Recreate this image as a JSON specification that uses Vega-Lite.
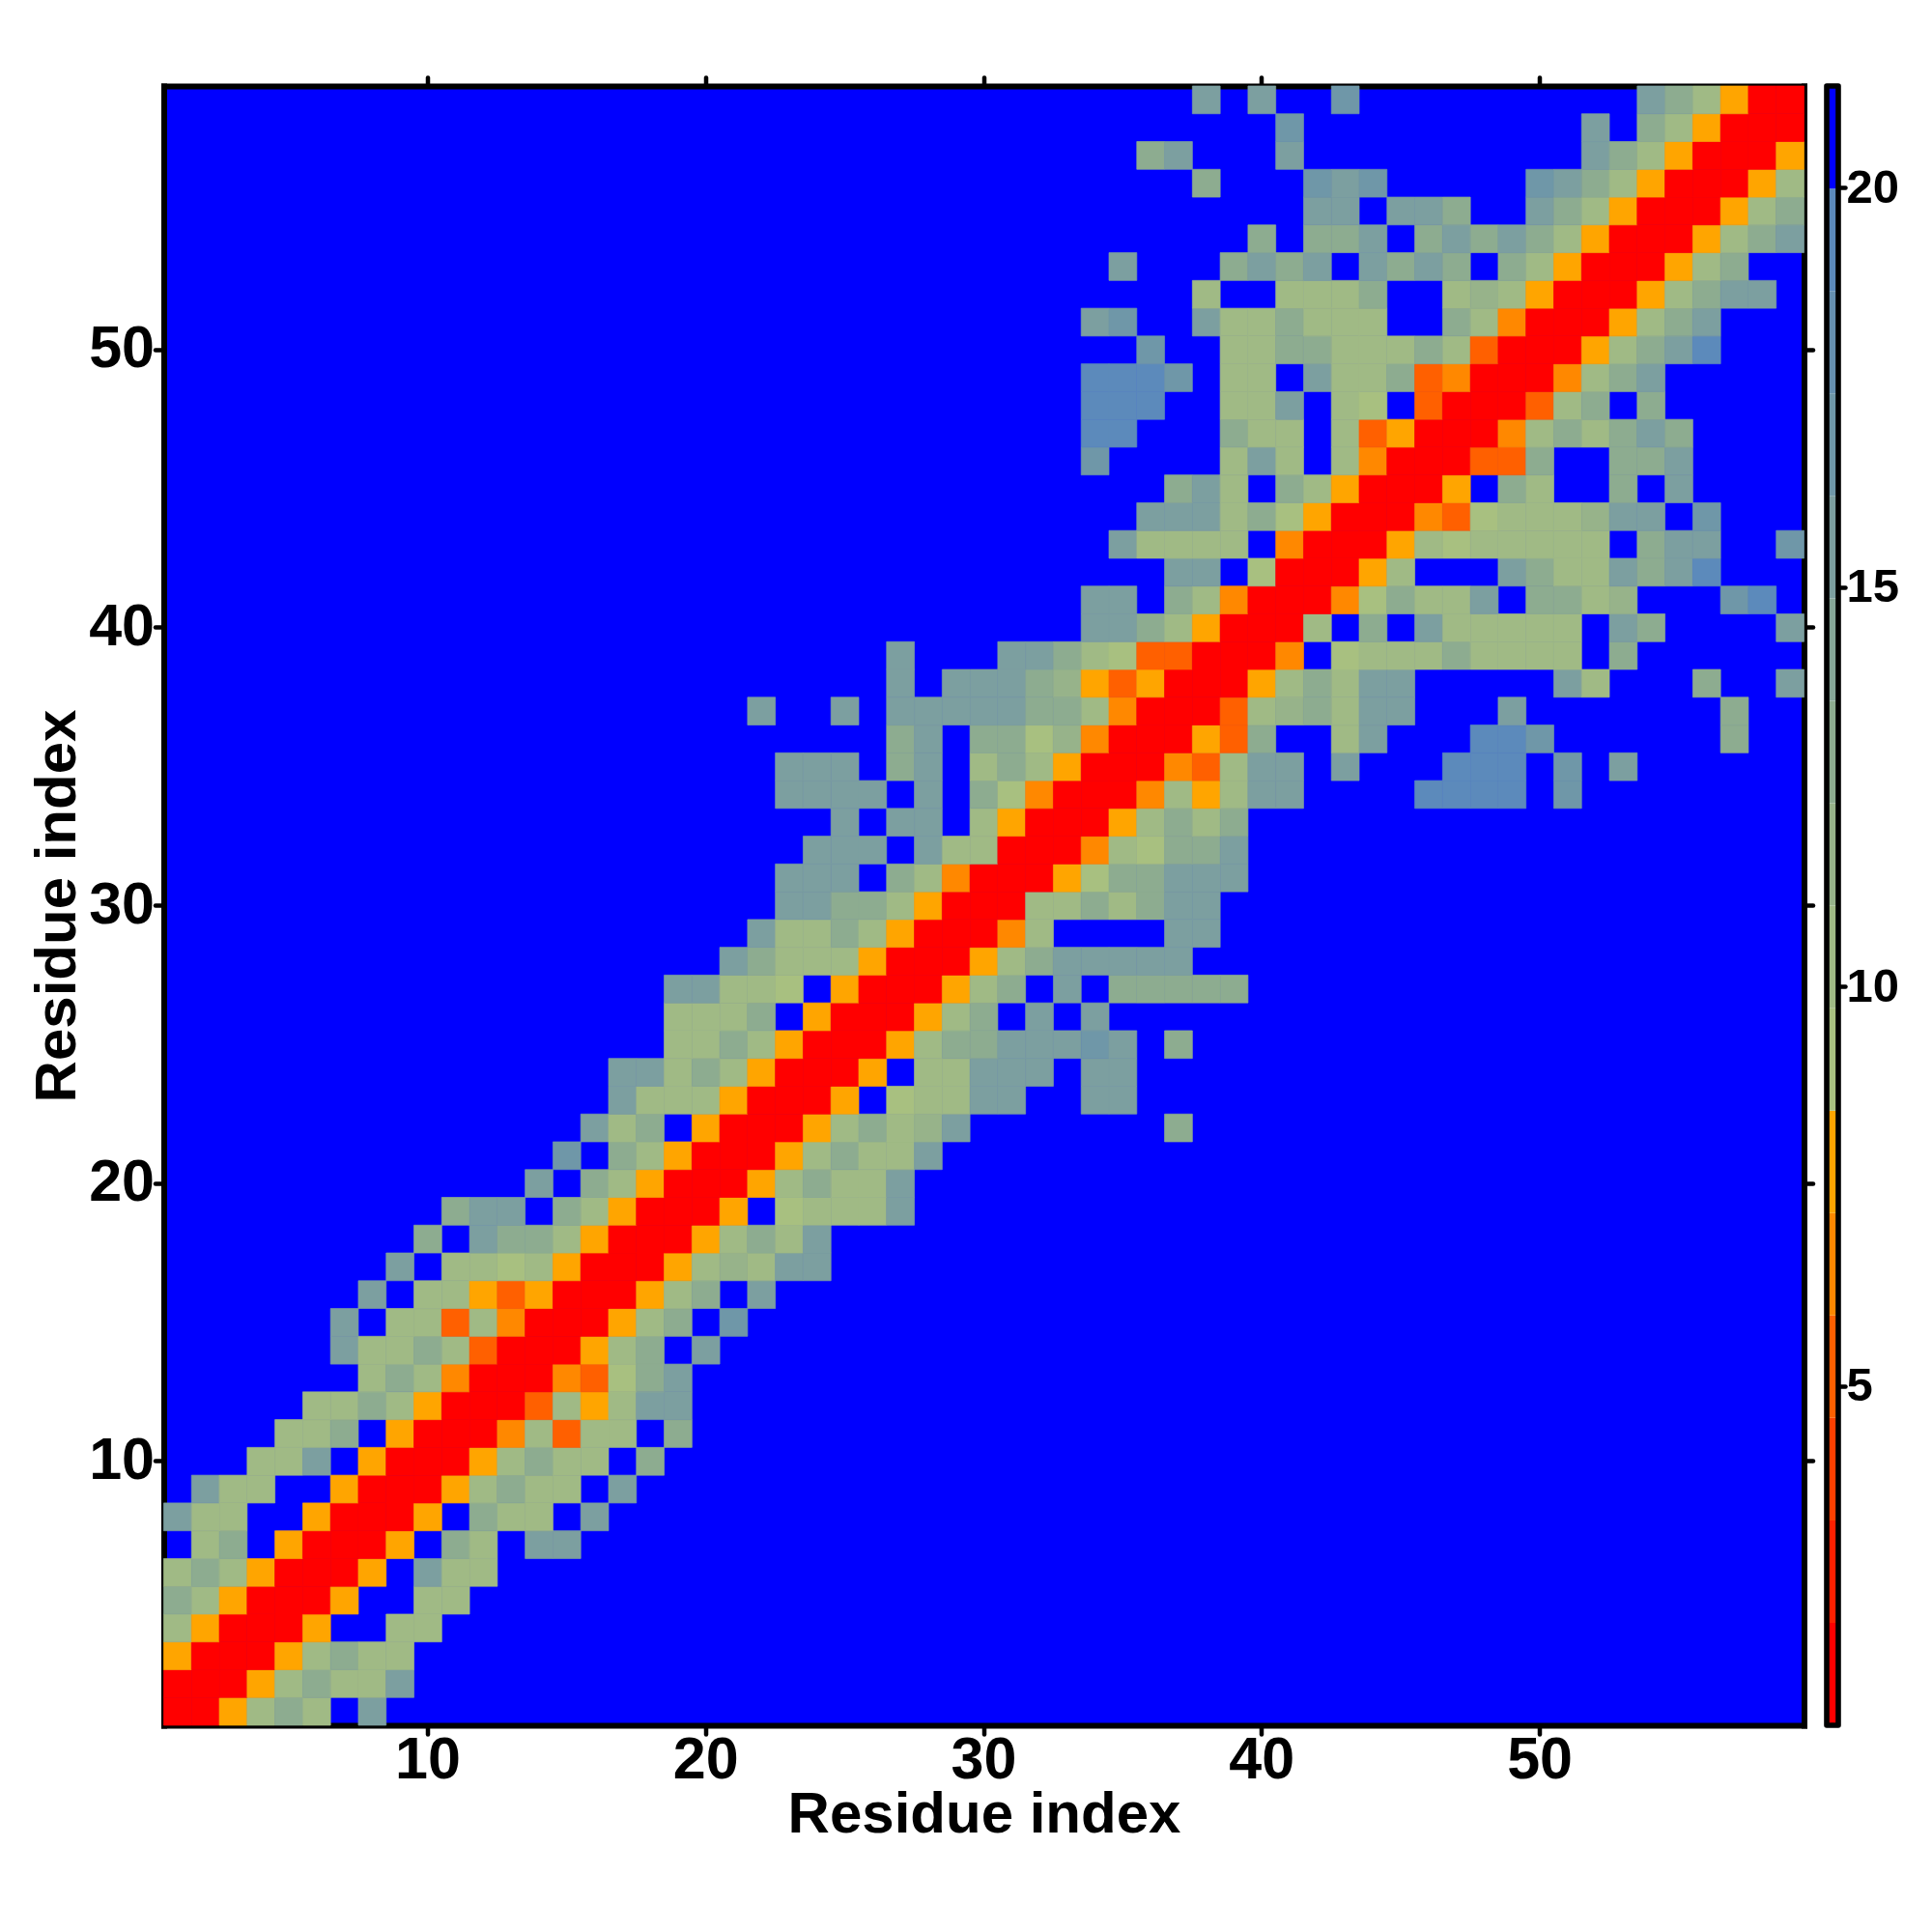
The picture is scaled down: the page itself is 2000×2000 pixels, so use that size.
{"$schema":"https://vega.github.io/schema/vega-lite/v6.json","background":"white","padding":{"left":29.5,"top":77,"right":0,"bottom":0},"spacing":8.5,"config":{"view":{"stroke":null},"axis":{"grid":false,"domainColor":"black","domainWidth":6,"domainCap":"square","tickColor":"black","tickWidth":4.5,"tickSize":9,"tickCap":"round","labelFont":"Liberation Sans","labelFontWeight":"bold","labelColor":"black","labelFontSize":61,"titleFont":"Liberation Sans","titleFontWeight":"bold","titleColor":"black","titleFontSize":60,"labelAngle":0,"labelOverlap":false,"zindex":1}},"datasets":{"cells":[
{"x":1,"y":1,"v":1.5},{"x":2,"y":1,"v":1.5},{"x":3,"y":1,"v":8},{"x":4,"y":1,"v":10.4},{"x":5,"y":1,"v":13},{"x":6,"y":1,"v":10.4},{"x":8,"y":1,"v":15.5},
{"x":1,"y":2,"v":1.5},{"x":2,"y":2,"v":1.5},{"x":3,"y":2,"v":1.5},{"x":4,"y":2,"v":8},{"x":5,"y":2,"v":10.4},{"x":6,"y":2,"v":13},{"x":7,"y":2,"v":10.4},{"x":8,"y":2,"v":10.4},{"x":9,"y":2,"v":15.5},
{"x":1,"y":3,"v":8},{"x":2,"y":3,"v":1.5},{"x":3,"y":3,"v":1.5},{"x":4,"y":3,"v":1.5},{"x":5,"y":3,"v":8},{"x":6,"y":3,"v":10.4},{"x":7,"y":3,"v":13},{"x":8,"y":3,"v":10.4},{"x":9,"y":3,"v":10.4},
{"x":1,"y":4,"v":10.4},{"x":2,"y":4,"v":8},{"x":3,"y":4,"v":1.5},{"x":4,"y":4,"v":1.5},{"x":5,"y":4,"v":1.5},{"x":6,"y":4,"v":8},{"x":9,"y":4,"v":10.4},{"x":10,"y":4,"v":10.4},
{"x":1,"y":5,"v":13},{"x":2,"y":5,"v":10.4},{"x":3,"y":5,"v":8},{"x":4,"y":5,"v":1.5},{"x":5,"y":5,"v":1.5},{"x":6,"y":5,"v":1.5},{"x":7,"y":5,"v":8},{"x":10,"y":5,"v":10.4},{"x":11,"y":5,"v":10.4},
{"x":1,"y":6,"v":10.4},{"x":2,"y":6,"v":13},{"x":3,"y":6,"v":10.4},{"x":4,"y":6,"v":8},{"x":5,"y":6,"v":1.5},{"x":6,"y":6,"v":1.5},{"x":7,"y":6,"v":1.5},{"x":8,"y":6,"v":8},{"x":10,"y":6,"v":15.5},{"x":11,"y":6,"v":10.4},{"x":12,"y":6,"v":10.4},
{"x":2,"y":7,"v":10.4},{"x":3,"y":7,"v":13},{"x":5,"y":7,"v":8},{"x":6,"y":7,"v":1.5},{"x":7,"y":7,"v":1.5},{"x":8,"y":7,"v":1.5},{"x":9,"y":7,"v":8},{"x":11,"y":7,"v":13},{"x":12,"y":7,"v":10.4},{"x":14,"y":7,"v":15.5},{"x":15,"y":7,"v":15.5},
{"x":1,"y":8,"v":15.5},{"x":2,"y":8,"v":10.4},{"x":3,"y":8,"v":10.4},{"x":6,"y":8,"v":8},{"x":7,"y":8,"v":1.5},{"x":8,"y":8,"v":1.5},{"x":9,"y":8,"v":1.5},{"x":10,"y":8,"v":8},{"x":12,"y":8,"v":13},{"x":13,"y":8,"v":10.4},{"x":14,"y":8,"v":10.4},{"x":16,"y":8,"v":15.5},
{"x":2,"y":9,"v":15.5},{"x":3,"y":9,"v":10.4},{"x":4,"y":9,"v":10.4},{"x":7,"y":9,"v":8},{"x":8,"y":9,"v":1.5},{"x":9,"y":9,"v":1.5},{"x":10,"y":9,"v":1.5},{"x":11,"y":9,"v":8},{"x":12,"y":9,"v":10.4},{"x":13,"y":9,"v":13},{"x":14,"y":9,"v":10.4},{"x":15,"y":9,"v":10.4},{"x":17,"y":9,"v":15.5},
{"x":4,"y":10,"v":10.4},{"x":5,"y":10,"v":10.4},{"x":6,"y":10,"v":15.5},{"x":8,"y":10,"v":8},{"x":9,"y":10,"v":1.5},{"x":10,"y":10,"v":1.5},{"x":11,"y":10,"v":1.5},{"x":12,"y":10,"v":8},{"x":13,"y":10,"v":10.4},{"x":14,"y":10,"v":13},{"x":15,"y":10,"v":10.4},{"x":16,"y":10,"v":10.4},{"x":18,"y":10,"v":13},
{"x":5,"y":11,"v":10.4},{"x":6,"y":11,"v":10.4},{"x":7,"y":11,"v":13},{"x":9,"y":11,"v":8},{"x":10,"y":11,"v":1.5},{"x":11,"y":11,"v":1.5},{"x":12,"y":11,"v":1.5},{"x":13,"y":11,"v":6.5},{"x":14,"y":11,"v":10.4},{"x":15,"y":11,"v":5.3},{"x":16,"y":11,"v":10.4},{"x":17,"y":11,"v":10.4},{"x":19,"y":11,"v":13},
{"x":6,"y":12,"v":10.4},{"x":7,"y":12,"v":10.4},{"x":8,"y":12,"v":13},{"x":9,"y":12,"v":10.4},{"x":10,"y":12,"v":8},{"x":11,"y":12,"v":1.5},{"x":12,"y":12,"v":1.5},{"x":13,"y":12,"v":1.5},{"x":14,"y":12,"v":5.3},{"x":15,"y":12,"v":10.4},{"x":16,"y":12,"v":8},{"x":17,"y":12,"v":10.4},{"x":18,"y":12,"v":15.5},{"x":19,"y":12,"v":15.5},
{"x":8,"y":13,"v":10.4},{"x":9,"y":13,"v":13},{"x":10,"y":13,"v":10.4},{"x":11,"y":13,"v":6.5},{"x":12,"y":13,"v":1.5},{"x":13,"y":13,"v":1.5},{"x":14,"y":13,"v":1.5},{"x":15,"y":13,"v":6.5},{"x":16,"y":13,"v":5.3},{"x":17,"y":13,"v":9.2},{"x":18,"y":13,"v":13},{"x":19,"y":13,"v":15.5},
{"x":7,"y":14,"v":15.5},{"x":8,"y":14,"v":10.4},{"x":9,"y":14,"v":10.4},{"x":10,"y":14,"v":13},{"x":11,"y":14,"v":10.4},{"x":12,"y":14,"v":5.3},{"x":13,"y":14,"v":1.5},{"x":14,"y":14,"v":1.5},{"x":15,"y":14,"v":1.5},{"x":16,"y":14,"v":8},{"x":17,"y":14,"v":10.4},{"x":18,"y":14,"v":13},{"x":20,"y":14,"v":15.5},
{"x":7,"y":15,"v":15.5},{"x":9,"y":15,"v":10.4},{"x":10,"y":15,"v":10.4},{"x":11,"y":15,"v":5.3},{"x":12,"y":15,"v":10.4},{"x":13,"y":15,"v":6.5},{"x":14,"y":15,"v":1.5},{"x":15,"y":15,"v":1.5},{"x":16,"y":15,"v":1.5},{"x":17,"y":15,"v":8},{"x":18,"y":15,"v":10.4},{"x":19,"y":15,"v":13},{"x":21,"y":15,"v":17},
{"x":8,"y":16,"v":15.5},{"x":10,"y":16,"v":10.4},{"x":11,"y":16,"v":10.4},{"x":12,"y":16,"v":8},{"x":13,"y":16,"v":5.3},{"x":14,"y":16,"v":8},{"x":15,"y":16,"v":1.5},{"x":16,"y":16,"v":1.5},{"x":17,"y":16,"v":1.5},{"x":18,"y":16,"v":8},{"x":19,"y":16,"v":10.4},{"x":20,"y":16,"v":13},{"x":22,"y":16,"v":15.5},
{"x":9,"y":17,"v":15.5},{"x":11,"y":17,"v":10.4},{"x":12,"y":17,"v":10.4},{"x":13,"y":17,"v":9.2},{"x":14,"y":17,"v":10.4},{"x":15,"y":17,"v":8},{"x":16,"y":17,"v":1.5},{"x":17,"y":17,"v":1.5},{"x":18,"y":17,"v":1.5},{"x":19,"y":17,"v":8},{"x":20,"y":17,"v":10.4},{"x":21,"y":17,"v":11.7},{"x":22,"y":17,"v":10.4},{"x":23,"y":17,"v":15.5},{"x":24,"y":17,"v":15.5},
{"x":10,"y":18,"v":13},{"x":12,"y":18,"v":15.5},{"x":13,"y":18,"v":13},{"x":14,"y":18,"v":13},{"x":15,"y":18,"v":10.4},{"x":16,"y":18,"v":8},{"x":17,"y":18,"v":1.5},{"x":18,"y":18,"v":1.5},{"x":19,"y":18,"v":1.5},{"x":20,"y":18,"v":8},{"x":21,"y":18,"v":10.4},{"x":22,"y":18,"v":13},{"x":23,"y":18,"v":10.4},{"x":24,"y":18,"v":15.5},
{"x":11,"y":19,"v":13},{"x":12,"y":19,"v":15.5},{"x":13,"y":19,"v":15.5},{"x":15,"y":19,"v":13},{"x":16,"y":19,"v":10.4},{"x":17,"y":19,"v":8},{"x":18,"y":19,"v":1.5},{"x":19,"y":19,"v":1.5},{"x":20,"y":19,"v":1.5},{"x":21,"y":19,"v":8},{"x":23,"y":19,"v":9.2},{"x":24,"y":19,"v":10.4},{"x":25,"y":19,"v":10.4},{"x":26,"y":19,"v":10.4},{"x":27,"y":19,"v":15.5},
{"x":14,"y":20,"v":15.5},{"x":16,"y":20,"v":13},{"x":17,"y":20,"v":10.4},{"x":18,"y":20,"v":8},{"x":19,"y":20,"v":1.5},{"x":20,"y":20,"v":1.5},{"x":21,"y":20,"v":1.5},{"x":22,"y":20,"v":8},{"x":23,"y":20,"v":10.4},{"x":24,"y":20,"v":13},{"x":25,"y":20,"v":10.4},{"x":26,"y":20,"v":10.4},{"x":27,"y":20,"v":15.5},
{"x":15,"y":21,"v":17},{"x":17,"y":21,"v":13},{"x":18,"y":21,"v":10.4},{"x":19,"y":21,"v":8},{"x":20,"y":21,"v":1.5},{"x":21,"y":21,"v":1.5},{"x":22,"y":21,"v":1.5},{"x":23,"y":21,"v":8},{"x":24,"y":21,"v":10.4},{"x":25,"y":21,"v":13},{"x":26,"y":21,"v":10.4},{"x":27,"y":21,"v":10.4},{"x":28,"y":21,"v":15.5},
{"x":16,"y":22,"v":15.5},{"x":17,"y":22,"v":10.4},{"x":18,"y":22,"v":13},{"x":20,"y":22,"v":8},{"x":21,"y":22,"v":1.5},{"x":22,"y":22,"v":1.5},{"x":23,"y":22,"v":1.5},{"x":24,"y":22,"v":8},{"x":25,"y":22,"v":10.4},{"x":26,"y":22,"v":13},{"x":27,"y":22,"v":10.4},{"x":28,"y":22,"v":11.7},{"x":29,"y":22,"v":15.5},{"x":37,"y":22,"v":13},
{"x":17,"y":23,"v":15.5},{"x":18,"y":23,"v":10.4},{"x":19,"y":23,"v":10.4},{"x":20,"y":23,"v":10.4},{"x":21,"y":23,"v":8},{"x":22,"y":23,"v":1.5},{"x":23,"y":23,"v":1.5},{"x":24,"y":23,"v":1.5},{"x":25,"y":23,"v":8},{"x":27,"y":23,"v":9.2},{"x":28,"y":23,"v":10.4},{"x":29,"y":23,"v":10.4},{"x":30,"y":23,"v":15.5},{"x":31,"y":23,"v":15.5},{"x":34,"y":23,"v":15.5},{"x":35,"y":23,"v":15.5},
{"x":17,"y":24,"v":15.5},{"x":18,"y":24,"v":15.5},{"x":19,"y":24,"v":10.4},{"x":20,"y":24,"v":13},{"x":21,"y":24,"v":10.4},{"x":22,"y":24,"v":8},{"x":23,"y":24,"v":1.5},{"x":24,"y":24,"v":1.5},{"x":25,"y":24,"v":1.5},{"x":26,"y":24,"v":8},{"x":28,"y":24,"v":10.4},{"x":29,"y":24,"v":10.4},{"x":30,"y":24,"v":15.5},{"x":31,"y":24,"v":15.5},{"x":32,"y":24,"v":15.5},{"x":34,"y":24,"v":15.5},{"x":35,"y":24,"v":15.5},
{"x":19,"y":25,"v":10.4},{"x":20,"y":25,"v":10.4},{"x":21,"y":25,"v":13},{"x":22,"y":25,"v":10.4},{"x":23,"y":25,"v":8},{"x":24,"y":25,"v":1.5},{"x":25,"y":25,"v":1.5},{"x":26,"y":25,"v":1.5},{"x":27,"y":25,"v":8},{"x":28,"y":25,"v":10.4},{"x":29,"y":25,"v":13},{"x":30,"y":25,"v":13},{"x":31,"y":25,"v":15.5},{"x":32,"y":25,"v":15.5},{"x":33,"y":25,"v":15.5},{"x":34,"y":25,"v":17},{"x":35,"y":25,"v":15.5},{"x":37,"y":25,"v":13},
{"x":19,"y":26,"v":10.4},{"x":20,"y":26,"v":10.4},{"x":21,"y":26,"v":10.4},{"x":22,"y":26,"v":13},{"x":24,"y":26,"v":8},{"x":25,"y":26,"v":1.5},{"x":26,"y":26,"v":1.5},{"x":27,"y":26,"v":1.5},{"x":28,"y":26,"v":8},{"x":29,"y":26,"v":10.4},{"x":30,"y":26,"v":13},{"x":32,"y":26,"v":15.5},{"x":34,"y":26,"v":15.5},
{"x":19,"y":27,"v":15.5},{"x":20,"y":27,"v":15.5},{"x":21,"y":27,"v":10.4},{"x":22,"y":27,"v":10.4},{"x":23,"y":27,"v":9.2},{"x":25,"y":27,"v":8},{"x":26,"y":27,"v":1.5},{"x":27,"y":27,"v":1.5},{"x":28,"y":27,"v":1.5},{"x":29,"y":27,"v":8},{"x":30,"y":27,"v":10.4},{"x":31,"y":27,"v":13},{"x":33,"y":27,"v":15.5},{"x":35,"y":27,"v":13},{"x":36,"y":27,"v":13},{"x":37,"y":27,"v":13},{"x":38,"y":27,"v":13},{"x":39,"y":27,"v":13},
{"x":21,"y":28,"v":15.5},{"x":22,"y":28,"v":13},{"x":23,"y":28,"v":10.4},{"x":24,"y":28,"v":10.4},{"x":25,"y":28,"v":10.4},{"x":26,"y":28,"v":8},{"x":27,"y":28,"v":1.5},{"x":28,"y":28,"v":1.5},{"x":29,"y":28,"v":1.5},{"x":30,"y":28,"v":8},{"x":31,"y":28,"v":10.4},{"x":32,"y":28,"v":13},{"x":33,"y":28,"v":15.5},{"x":34,"y":28,"v":15.5},{"x":35,"y":28,"v":15.5},{"x":36,"y":28,"v":15.5},{"x":37,"y":28,"v":15.5},
{"x":22,"y":29,"v":15.5},{"x":23,"y":29,"v":10.4},{"x":24,"y":29,"v":10.4},{"x":25,"y":29,"v":13},{"x":26,"y":29,"v":10.4},{"x":27,"y":29,"v":8},{"x":28,"y":29,"v":1.5},{"x":29,"y":29,"v":1.5},{"x":30,"y":29,"v":1.5},{"x":31,"y":29,"v":6.5},{"x":32,"y":29,"v":10.4},{"x":37,"y":29,"v":15.5},{"x":38,"y":29,"v":15.5},
{"x":23,"y":30,"v":15.5},{"x":24,"y":30,"v":15.5},{"x":25,"y":30,"v":13},{"x":26,"y":30,"v":13},{"x":27,"y":30,"v":10.4},{"x":28,"y":30,"v":8},{"x":29,"y":30,"v":1.5},{"x":30,"y":30,"v":1.5},{"x":31,"y":30,"v":1.5},{"x":32,"y":30,"v":10.4},{"x":33,"y":30,"v":10.4},{"x":34,"y":30,"v":13},{"x":35,"y":30,"v":10.4},{"x":36,"y":30,"v":13},{"x":37,"y":30,"v":15.5},{"x":38,"y":30,"v":15.5},
{"x":23,"y":31,"v":15.5},{"x":24,"y":31,"v":15.5},{"x":25,"y":31,"v":15.5},{"x":27,"y":31,"v":13},{"x":28,"y":31,"v":10.4},{"x":29,"y":31,"v":6.5},{"x":30,"y":31,"v":1.5},{"x":31,"y":31,"v":1.5},{"x":32,"y":31,"v":1.5},{"x":33,"y":31,"v":8},{"x":34,"y":31,"v":9.2},{"x":35,"y":31,"v":13},{"x":36,"y":31,"v":13},{"x":37,"y":31,"v":15.5},{"x":38,"y":31,"v":15.5},{"x":39,"y":31,"v":15.5},
{"x":24,"y":32,"v":15.5},{"x":25,"y":32,"v":15.5},{"x":26,"y":32,"v":15.5},{"x":28,"y":32,"v":15.5},{"x":29,"y":32,"v":10.4},{"x":30,"y":32,"v":10.4},{"x":31,"y":32,"v":1.5},{"x":32,"y":32,"v":1.5},{"x":33,"y":32,"v":1.5},{"x":34,"y":32,"v":6.5},{"x":35,"y":32,"v":10.4},{"x":36,"y":32,"v":9.2},{"x":37,"y":32,"v":13},{"x":38,"y":32,"v":13},{"x":39,"y":32,"v":15.5},
{"x":25,"y":33,"v":15.5},{"x":27,"y":33,"v":15.5},{"x":28,"y":33,"v":15.5},{"x":30,"y":33,"v":10.4},{"x":31,"y":33,"v":8},{"x":32,"y":33,"v":1.5},{"x":33,"y":33,"v":1.5},{"x":34,"y":33,"v":1.5},{"x":35,"y":33,"v":8},{"x":36,"y":33,"v":10.4},{"x":37,"y":33,"v":13},{"x":38,"y":33,"v":10.4},{"x":39,"y":33,"v":13},
{"x":23,"y":34,"v":15.5},{"x":24,"y":34,"v":15.5},{"x":25,"y":34,"v":15.5},{"x":26,"y":34,"v":15.5},{"x":28,"y":34,"v":15.5},{"x":30,"y":34,"v":13},{"x":31,"y":34,"v":9.2},{"x":32,"y":34,"v":6.5},{"x":33,"y":34,"v":1.5},{"x":34,"y":34,"v":1.5},{"x":35,"y":34,"v":1.5},{"x":36,"y":34,"v":6.5},{"x":37,"y":34,"v":10.4},{"x":38,"y":34,"v":8},{"x":39,"y":34,"v":10.4},{"x":40,"y":34,"v":15.5},{"x":41,"y":34,"v":15.5},{"x":46,"y":34,"v":19.3},{"x":47,"y":34,"v":19.3},{"x":48,"y":34,"v":19.3},{"x":49,"y":34,"v":19.3},{"x":51,"y":34,"v":17},
{"x":23,"y":35,"v":15.5},{"x":24,"y":35,"v":15.5},{"x":25,"y":35,"v":15.5},{"x":27,"y":35,"v":13},{"x":28,"y":35,"v":15.5},{"x":30,"y":35,"v":10.4},{"x":31,"y":35,"v":13},{"x":32,"y":35,"v":10.4},{"x":33,"y":35,"v":8},{"x":34,"y":35,"v":1.5},{"x":35,"y":35,"v":1.5},{"x":36,"y":35,"v":1.5},{"x":37,"y":35,"v":6.5},{"x":38,"y":35,"v":5.3},{"x":39,"y":35,"v":10.4},{"x":40,"y":35,"v":15.5},{"x":41,"y":35,"v":15.5},{"x":43,"y":35,"v":15.5},{"x":47,"y":35,"v":19.3},{"x":48,"y":35,"v":19.3},{"x":49,"y":35,"v":19.3},{"x":51,"y":35,"v":17},{"x":53,"y":35,"v":15.5},
{"x":27,"y":36,"v":13},{"x":28,"y":36,"v":15.5},{"x":30,"y":36,"v":13},{"x":31,"y":36,"v":13},{"x":32,"y":36,"v":9.2},{"x":33,"y":36,"v":11.7},{"x":34,"y":36,"v":6.5},{"x":35,"y":36,"v":1.5},{"x":36,"y":36,"v":1.5},{"x":37,"y":36,"v":1.5},{"x":38,"y":36,"v":8},{"x":39,"y":36,"v":5.3},{"x":40,"y":36,"v":13},{"x":43,"y":36,"v":10.4},{"x":44,"y":36,"v":15.5},{"x":48,"y":36,"v":19.3},{"x":49,"y":36,"v":19.3},{"x":50,"y":36,"v":17},{"x":57,"y":36,"v":13},
{"x":22,"y":37,"v":15.5},{"x":25,"y":37,"v":15.5},{"x":27,"y":37,"v":15.5},{"x":28,"y":37,"v":15.5},{"x":29,"y":37,"v":15.5},{"x":30,"y":37,"v":15.5},{"x":31,"y":37,"v":15.5},{"x":32,"y":37,"v":13},{"x":33,"y":37,"v":13},{"x":34,"y":37,"v":10.4},{"x":35,"y":37,"v":6.5},{"x":36,"y":37,"v":1.5},{"x":37,"y":37,"v":1.5},{"x":38,"y":37,"v":1.5},{"x":39,"y":37,"v":5.3},{"x":40,"y":37,"v":10.4},{"x":41,"y":37,"v":11.7},{"x":42,"y":37,"v":13},{"x":43,"y":37,"v":10.4},{"x":44,"y":37,"v":15.5},{"x":45,"y":37,"v":15.5},{"x":49,"y":37,"v":15.5},{"x":57,"y":37,"v":13},
{"x":27,"y":38,"v":15.5},{"x":29,"y":38,"v":15.5},{"x":30,"y":38,"v":15.5},{"x":31,"y":38,"v":15.5},{"x":32,"y":38,"v":13},{"x":33,"y":38,"v":11.7},{"x":34,"y":38,"v":8},{"x":35,"y":38,"v":5.3},{"x":36,"y":38,"v":8},{"x":37,"y":38,"v":1.5},{"x":38,"y":38,"v":1.5},{"x":39,"y":38,"v":1.5},{"x":40,"y":38,"v":8},{"x":41,"y":38,"v":10.4},{"x":42,"y":38,"v":13},{"x":43,"y":38,"v":10.4},{"x":44,"y":38,"v":15.5},{"x":45,"y":38,"v":15.5},{"x":51,"y":38,"v":15.5},{"x":52,"y":38,"v":10.4},{"x":56,"y":38,"v":13},{"x":59,"y":38,"v":15.5},
{"x":27,"y":39,"v":15.5},{"x":31,"y":39,"v":15.5},{"x":32,"y":39,"v":15.5},{"x":33,"y":39,"v":13},{"x":34,"y":39,"v":10.4},{"x":35,"y":39,"v":9.2},{"x":36,"y":39,"v":5.3},{"x":37,"y":39,"v":5.3},{"x":38,"y":39,"v":1.5},{"x":39,"y":39,"v":1.5},{"x":40,"y":39,"v":1.5},{"x":41,"y":39,"v":6.5},{"x":43,"y":39,"v":9.2},{"x":44,"y":39,"v":10.4},{"x":45,"y":39,"v":10.4},{"x":46,"y":39,"v":10.4},{"x":47,"y":39,"v":13},{"x":48,"y":39,"v":10.4},{"x":49,"y":39,"v":10.4},{"x":50,"y":39,"v":10.4},{"x":51,"y":39,"v":10.4},{"x":53,"y":39,"v":13},
{"x":34,"y":40,"v":15.5},{"x":35,"y":40,"v":15.5},{"x":36,"y":40,"v":13},{"x":37,"y":40,"v":10.4},{"x":38,"y":40,"v":8},{"x":39,"y":40,"v":1.5},{"x":40,"y":40,"v":1.5},{"x":41,"y":40,"v":1.5},{"x":42,"y":40,"v":10.4},{"x":44,"y":40,"v":13},{"x":46,"y":40,"v":15.5},{"x":47,"y":40,"v":10.4},{"x":48,"y":40,"v":10.4},{"x":49,"y":40,"v":10.4},{"x":50,"y":40,"v":10.4},{"x":51,"y":40,"v":10.4},{"x":53,"y":40,"v":15.5},{"x":54,"y":40,"v":13},{"x":59,"y":40,"v":15.5},
{"x":34,"y":41,"v":15.5},{"x":35,"y":41,"v":15.5},{"x":37,"y":41,"v":13},{"x":38,"y":41,"v":10.4},{"x":39,"y":41,"v":6.5},{"x":40,"y":41,"v":1.5},{"x":41,"y":41,"v":1.5},{"x":42,"y":41,"v":1.5},{"x":43,"y":41,"v":6.5},{"x":44,"y":41,"v":9.2},{"x":45,"y":41,"v":13},{"x":46,"y":41,"v":10.4},{"x":47,"y":41,"v":10.4},{"x":48,"y":41,"v":15.5},{"x":50,"y":41,"v":13},{"x":51,"y":41,"v":13},{"x":52,"y":41,"v":10.4},{"x":53,"y":41,"v":11.7},{"x":57,"y":41,"v":17},{"x":58,"y":41,"v":19.3},
{"x":37,"y":42,"v":15.5},{"x":38,"y":42,"v":15.5},{"x":40,"y":42,"v":9.2},{"x":41,"y":42,"v":1.5},{"x":42,"y":42,"v":1.5},{"x":43,"y":42,"v":1.5},{"x":44,"y":42,"v":8},{"x":45,"y":42,"v":10.4},{"x":49,"y":42,"v":15.5},{"x":50,"y":42,"v":13},{"x":51,"y":42,"v":10.4},{"x":52,"y":42,"v":10.4},{"x":53,"y":42,"v":15.5},{"x":54,"y":42,"v":13},{"x":55,"y":42,"v":15.5},{"x":56,"y":42,"v":19.3},
{"x":35,"y":43,"v":15.5},{"x":36,"y":43,"v":10.4},{"x":37,"y":43,"v":10.4},{"x":38,"y":43,"v":10.4},{"x":39,"y":43,"v":10.4},{"x":41,"y":43,"v":6.5},{"x":42,"y":43,"v":1.5},{"x":43,"y":43,"v":1.5},{"x":44,"y":43,"v":1.5},{"x":45,"y":43,"v":8},{"x":46,"y":43,"v":10.4},{"x":47,"y":43,"v":9.2},{"x":48,"y":43,"v":10.4},{"x":49,"y":43,"v":10.4},{"x":50,"y":43,"v":10.4},{"x":51,"y":43,"v":10.4},{"x":52,"y":43,"v":10.4},{"x":54,"y":43,"v":13},{"x":55,"y":43,"v":15.5},{"x":56,"y":43,"v":15.5},{"x":59,"y":43,"v":17},
{"x":36,"y":44,"v":15.5},{"x":37,"y":44,"v":15.5},{"x":38,"y":44,"v":15.5},{"x":39,"y":44,"v":10.4},{"x":40,"y":44,"v":13},{"x":41,"y":44,"v":9.2},{"x":42,"y":44,"v":8},{"x":43,"y":44,"v":1.5},{"x":44,"y":44,"v":1.5},{"x":45,"y":44,"v":1.5},{"x":46,"y":44,"v":6.5},{"x":47,"y":44,"v":5.3},{"x":48,"y":44,"v":9.2},{"x":49,"y":44,"v":10.4},{"x":50,"y":44,"v":10.4},{"x":51,"y":44,"v":10.4},{"x":52,"y":44,"v":11.7},{"x":53,"y":44,"v":15.5},{"x":54,"y":44,"v":15.5},{"x":56,"y":44,"v":17},
{"x":37,"y":45,"v":13},{"x":38,"y":45,"v":15.5},{"x":39,"y":45,"v":10.4},{"x":41,"y":45,"v":13},{"x":42,"y":45,"v":10.4},{"x":43,"y":45,"v":8},{"x":44,"y":45,"v":1.5},{"x":45,"y":45,"v":1.5},{"x":46,"y":45,"v":1.5},{"x":47,"y":45,"v":8},{"x":49,"y":45,"v":13},{"x":50,"y":45,"v":10.4},{"x":53,"y":45,"v":13},{"x":55,"y":45,"v":15.5},
{"x":34,"y":46,"v":17},{"x":39,"y":46,"v":10.4},{"x":40,"y":46,"v":15.5},{"x":41,"y":46,"v":10.4},{"x":43,"y":46,"v":10.4},{"x":44,"y":46,"v":6.5},{"x":45,"y":46,"v":1.5},{"x":46,"y":46,"v":1.5},{"x":47,"y":46,"v":1.5},{"x":48,"y":46,"v":5.3},{"x":49,"y":46,"v":5.3},{"x":50,"y":46,"v":13},{"x":53,"y":46,"v":13},{"x":54,"y":46,"v":13},{"x":55,"y":46,"v":15.5},
{"x":34,"y":47,"v":19.3},{"x":35,"y":47,"v":19.3},{"x":39,"y":47,"v":13},{"x":40,"y":47,"v":10.4},{"x":41,"y":47,"v":10.4},{"x":43,"y":47,"v":10.4},{"x":44,"y":47,"v":5.3},{"x":45,"y":47,"v":8},{"x":46,"y":47,"v":1.5},{"x":47,"y":47,"v":1.5},{"x":48,"y":47,"v":1.5},{"x":49,"y":47,"v":6.5},{"x":50,"y":47,"v":10.4},{"x":51,"y":47,"v":13},{"x":52,"y":47,"v":10.4},{"x":53,"y":47,"v":13},{"x":54,"y":47,"v":15.5},{"x":55,"y":47,"v":13},
{"x":34,"y":48,"v":19.3},{"x":35,"y":48,"v":19.3},{"x":36,"y":48,"v":19.3},{"x":39,"y":48,"v":10.4},{"x":40,"y":48,"v":10.4},{"x":41,"y":48,"v":15.5},{"x":43,"y":48,"v":10.4},{"x":44,"y":48,"v":9.2},{"x":46,"y":48,"v":5.3},{"x":47,"y":48,"v":1.5},{"x":48,"y":48,"v":1.5},{"x":49,"y":48,"v":1.5},{"x":50,"y":48,"v":5.3},{"x":51,"y":48,"v":10.4},{"x":52,"y":48,"v":13},{"x":54,"y":48,"v":13},
{"x":34,"y":49,"v":19.3},{"x":35,"y":49,"v":19.3},{"x":36,"y":49,"v":19.3},{"x":37,"y":49,"v":17},{"x":39,"y":49,"v":10.4},{"x":40,"y":49,"v":10.4},{"x":42,"y":49,"v":15.5},{"x":43,"y":49,"v":10.4},{"x":44,"y":49,"v":10.4},{"x":45,"y":49,"v":13},{"x":46,"y":49,"v":5.3},{"x":47,"y":49,"v":6.5},{"x":48,"y":49,"v":1.5},{"x":49,"y":49,"v":1.5},{"x":50,"y":49,"v":1.5},{"x":51,"y":49,"v":6.5},{"x":52,"y":49,"v":10.4},{"x":53,"y":49,"v":13},{"x":54,"y":49,"v":15.5},
{"x":36,"y":50,"v":17},{"x":39,"y":50,"v":10.4},{"x":40,"y":50,"v":10.4},{"x":41,"y":50,"v":13},{"x":42,"y":50,"v":13},{"x":43,"y":50,"v":10.4},{"x":44,"y":50,"v":10.4},{"x":45,"y":50,"v":10.4},{"x":46,"y":50,"v":13},{"x":47,"y":50,"v":10.4},{"x":48,"y":50,"v":5.3},{"x":49,"y":50,"v":1.5},{"x":50,"y":50,"v":1.5},{"x":51,"y":50,"v":1.5},{"x":52,"y":50,"v":8},{"x":53,"y":50,"v":10.4},{"x":54,"y":50,"v":13},{"x":55,"y":50,"v":15.5},{"x":56,"y":50,"v":19.3},
{"x":34,"y":51,"v":15.5},{"x":35,"y":51,"v":17},{"x":38,"y":51,"v":15.5},{"x":39,"y":51,"v":10.4},{"x":40,"y":51,"v":10.4},{"x":41,"y":51,"v":13},{"x":42,"y":51,"v":10.4},{"x":43,"y":51,"v":10.4},{"x":44,"y":51,"v":10.4},{"x":47,"y":51,"v":13},{"x":48,"y":51,"v":10.4},{"x":49,"y":51,"v":6.5},{"x":50,"y":51,"v":1.5},{"x":51,"y":51,"v":1.5},{"x":52,"y":51,"v":1.5},{"x":53,"y":51,"v":8},{"x":54,"y":51,"v":10.4},{"x":55,"y":51,"v":13},{"x":56,"y":51,"v":15.5},
{"x":38,"y":52,"v":10.4},{"x":41,"y":52,"v":10.4},{"x":42,"y":52,"v":10.4},{"x":43,"y":52,"v":10.4},{"x":44,"y":52,"v":13},{"x":47,"y":52,"v":10.4},{"x":48,"y":52,"v":11.7},{"x":49,"y":52,"v":10.4},{"x":50,"y":52,"v":8},{"x":51,"y":52,"v":1.5},{"x":52,"y":52,"v":1.5},{"x":53,"y":52,"v":1.5},{"x":54,"y":52,"v":8},{"x":55,"y":52,"v":10.4},{"x":56,"y":52,"v":13},{"x":57,"y":52,"v":15.5},{"x":58,"y":52,"v":15.5},
{"x":35,"y":53,"v":15.5},{"x":39,"y":53,"v":13},{"x":40,"y":53,"v":15.5},{"x":41,"y":53,"v":13},{"x":42,"y":53,"v":15.5},{"x":44,"y":53,"v":15.5},{"x":45,"y":53,"v":13},{"x":46,"y":53,"v":15.5},{"x":47,"y":53,"v":13},{"x":49,"y":53,"v":13},{"x":50,"y":53,"v":10.4},{"x":51,"y":53,"v":8},{"x":52,"y":53,"v":1.5},{"x":53,"y":53,"v":1.5},{"x":54,"y":53,"v":1.5},{"x":55,"y":53,"v":8},{"x":56,"y":53,"v":10.4},{"x":57,"y":53,"v":13},
{"x":40,"y":54,"v":13},{"x":42,"y":54,"v":13},{"x":43,"y":54,"v":13},{"x":44,"y":54,"v":15.5},{"x":46,"y":54,"v":13},{"x":47,"y":54,"v":15.5},{"x":48,"y":54,"v":13},{"x":49,"y":54,"v":15.5},{"x":50,"y":54,"v":13},{"x":51,"y":54,"v":10.4},{"x":52,"y":54,"v":8},{"x":53,"y":54,"v":1.5},{"x":54,"y":54,"v":1.5},{"x":55,"y":54,"v":1.5},{"x":56,"y":54,"v":8},{"x":57,"y":54,"v":10.4},{"x":58,"y":54,"v":13},{"x":59,"y":54,"v":15.5},
{"x":42,"y":55,"v":15.5},{"x":43,"y":55,"v":15.5},{"x":45,"y":55,"v":15.5},{"x":46,"y":55,"v":15.5},{"x":47,"y":55,"v":13},{"x":50,"y":55,"v":15.5},{"x":51,"y":55,"v":13},{"x":52,"y":55,"v":10.4},{"x":53,"y":55,"v":8},{"x":54,"y":55,"v":1.5},{"x":55,"y":55,"v":1.5},{"x":56,"y":55,"v":1.5},{"x":57,"y":55,"v":8},{"x":58,"y":55,"v":10.4},{"x":59,"y":55,"v":13},
{"x":38,"y":56,"v":13},{"x":42,"y":56,"v":17},{"x":43,"y":56,"v":15.5},{"x":44,"y":56,"v":17},{"x":50,"y":56,"v":17},{"x":51,"y":56,"v":15.5},{"x":52,"y":56,"v":13},{"x":53,"y":56,"v":10.4},{"x":54,"y":56,"v":8},{"x":55,"y":56,"v":1.5},{"x":56,"y":56,"v":1.5},{"x":57,"y":56,"v":1.5},{"x":58,"y":56,"v":8},{"x":59,"y":56,"v":10.4},
{"x":36,"y":57,"v":13},{"x":37,"y":57,"v":15.5},{"x":41,"y":57,"v":15.5},{"x":52,"y":57,"v":15.5},{"x":53,"y":57,"v":13},{"x":54,"y":57,"v":10.4},{"x":55,"y":57,"v":8},{"x":56,"y":57,"v":1.5},{"x":57,"y":57,"v":1.5},{"x":58,"y":57,"v":1.5},{"x":59,"y":57,"v":8},
{"x":41,"y":58,"v":17},{"x":52,"y":58,"v":15.5},{"x":54,"y":58,"v":13},{"x":55,"y":58,"v":10.4},{"x":56,"y":58,"v":8},{"x":57,"y":58,"v":1.5},{"x":58,"y":58,"v":1.5},{"x":59,"y":58,"v":1.5},
{"x":38,"y":59,"v":15.5},{"x":40,"y":59,"v":15.5},{"x":43,"y":59,"v":17},{"x":54,"y":59,"v":15.5},{"x":55,"y":59,"v":13},{"x":56,"y":59,"v":10.4},{"x":57,"y":59,"v":8},{"x":58,"y":59,"v":1.5},{"x":59,"y":59,"v":1.5}
],"bins":[{"lo":0.756,"hi":2.038,"m":1.4},{"lo":2.038,"hi":3.32,"m":2.7},{"lo":3.32,"hi":4.602,"m":4},{"lo":4.602,"hi":5.884,"m":5.2},{"lo":5.884,"hi":7.166,"m":6.5},{"lo":7.166,"hi":8.448,"m":7.8},{"lo":8.448,"hi":9.73,"m":9.1},{"lo":9.73,"hi":11.012,"m":10.4},{"lo":11.012,"hi":12.294,"m":11.7},{"lo":12.294,"hi":13.576,"m":12.9},{"lo":13.576,"hi":14.858,"m":14.2},{"lo":14.858,"hi":16.14,"m":15.5},{"lo":16.14,"hi":17.422,"m":16.8},{"lo":17.422,"hi":18.704,"m":18},{"lo":18.704,"hi":19.986,"m":19.3},{"lo":19.986,"hi":21.27,"m":20.6}]},
"hconcat":[
{"width":1698,"height":1697,"view":{"fill":"#0000ff","stroke":null},
"encoding":{
"x":{"field":"x","type":"ordinal","scale":{"domain":[1,2,3,4,5,6,7,8,9,10,11,12,13,14,15,16,17,18,19,20,21,22,23,24,25,26,27,28,29,30,31,32,33,34,35,36,37,38,39,40,41,42,43,44,45,46,47,48,49,50,51,52,53,54,55,56,57,58,59],"paddingInner":0,"paddingOuter":0}},
"y":{"field":"y","type":"ordinal","scale":{"domain":[59,58,57,56,55,54,53,52,51,50,49,48,47,46,45,44,43,42,41,40,39,38,37,36,35,34,33,32,31,30,29,28,27,26,25,24,23,22,21,20,19,18,17,16,15,14,13,12,11,10,9,8,7,6,5,4,3,2,1],"paddingInner":0,"paddingOuter":0}}},
"layer":[
{"data":{"name":"cells"},"mark":{"type":"rect","strokeWidth":0.7},"encoding":{
"x":{"field":"x","type":"ordinal","axis":{"orient":"bottom","values":[10,20,30,40,50],"title":"Residue index","labelPadding":-3,"titlePadding":-3}},
"y":{"field":"y","type":"ordinal","axis":{"orient":"left","values":[10,20,30,40,50],"title":"Residue index","labelPadding":1,"titlePadding":1}},
"color":{"field":"v","type":"quantitative","legend":null,"scale":{"type":"threshold","domain":[2.038,3.32,4.602,5.884,7.166,8.448,9.73,11.012,12.294,13.576,14.858,16.14,17.422,18.704,19.986],"range":["#ff0000","#ff2000","#ff4000","#ff6000","#ff8800","#ffa500","#a8c080","#a0ba85","#97b38a","#8dac90","#85a697","#7c9fa0","#6f97a8","#6690b0","#5c8abb","#0000ff"]}},
"stroke":{"field":"v","type":"quantitative","legend":null,"scale":{"type":"threshold","domain":[2.038,3.32,4.602,5.884,7.166,8.448,9.73,11.012,12.294,13.576,14.858,16.14,17.422,18.704,19.986],"range":["#ff0000","#ff2000","#ff4000","#ff6000","#ff8800","#ffa500","#a8c080","#a0ba85","#97b38a","#8dac90","#85a697","#7c9fa0","#6f97a8","#6690b0","#5c8abb","#0000ff"]}}}},
{"data":{"name":"cells"},"mark":{"type":"rect","opacity":0},"encoding":{
"x":{"field":"x","type":"ordinal","axis":{"orient":"top","values":[10,20,30,40,50],"labels":false,"title":null}},
"y":{"field":"y","type":"ordinal","axis":{"orient":"right","values":[10,20,30,40,50],"labels":false,"title":null}}}}
],"resolve":{"axis":{"x":"independent","y":"independent"}}},
{"width":12,"height":1697,"layer":[
{"data":{"name":"bins"},"mark":{"type":"rect"},"encoding":{
"y":{"field":"lo","type":"quantitative","scale":{"domain":[0.756,21.27],"nice":false,"zero":false},"axis":{"orient":"right","values":[5,10,15,20],"domain":false,"title":null,"labelFontSize":49,"tickSize":7,"labelPadding":1}},
"y2":{"field":"hi"},
"color":{"field":"m","type":"quantitative","legend":null,"scale":{"type":"threshold","domain":[2.038,3.32,4.602,5.884,7.166,8.448,9.73,11.012,12.294,13.576,14.858,16.14,17.422,18.704,19.986],"range":["#ff0000","#ff2000","#ff4000","#ff6000","#ff8800","#ffa500","#a8c080","#a0ba85","#97b38a","#8dac90","#85a697","#7c9fa0","#6f97a8","#6690b0","#5c8abb","#0000ff"]}}}},
{"data":{"values":[{"frame":1}]},"mark":{"type":"rect","fillOpacity":0,"stroke":"black","strokeWidth":5.6,"strokeJoin":"round"}}
]}
],"resolve":{"scale":{"color":"independent","stroke":"independent"}}}
